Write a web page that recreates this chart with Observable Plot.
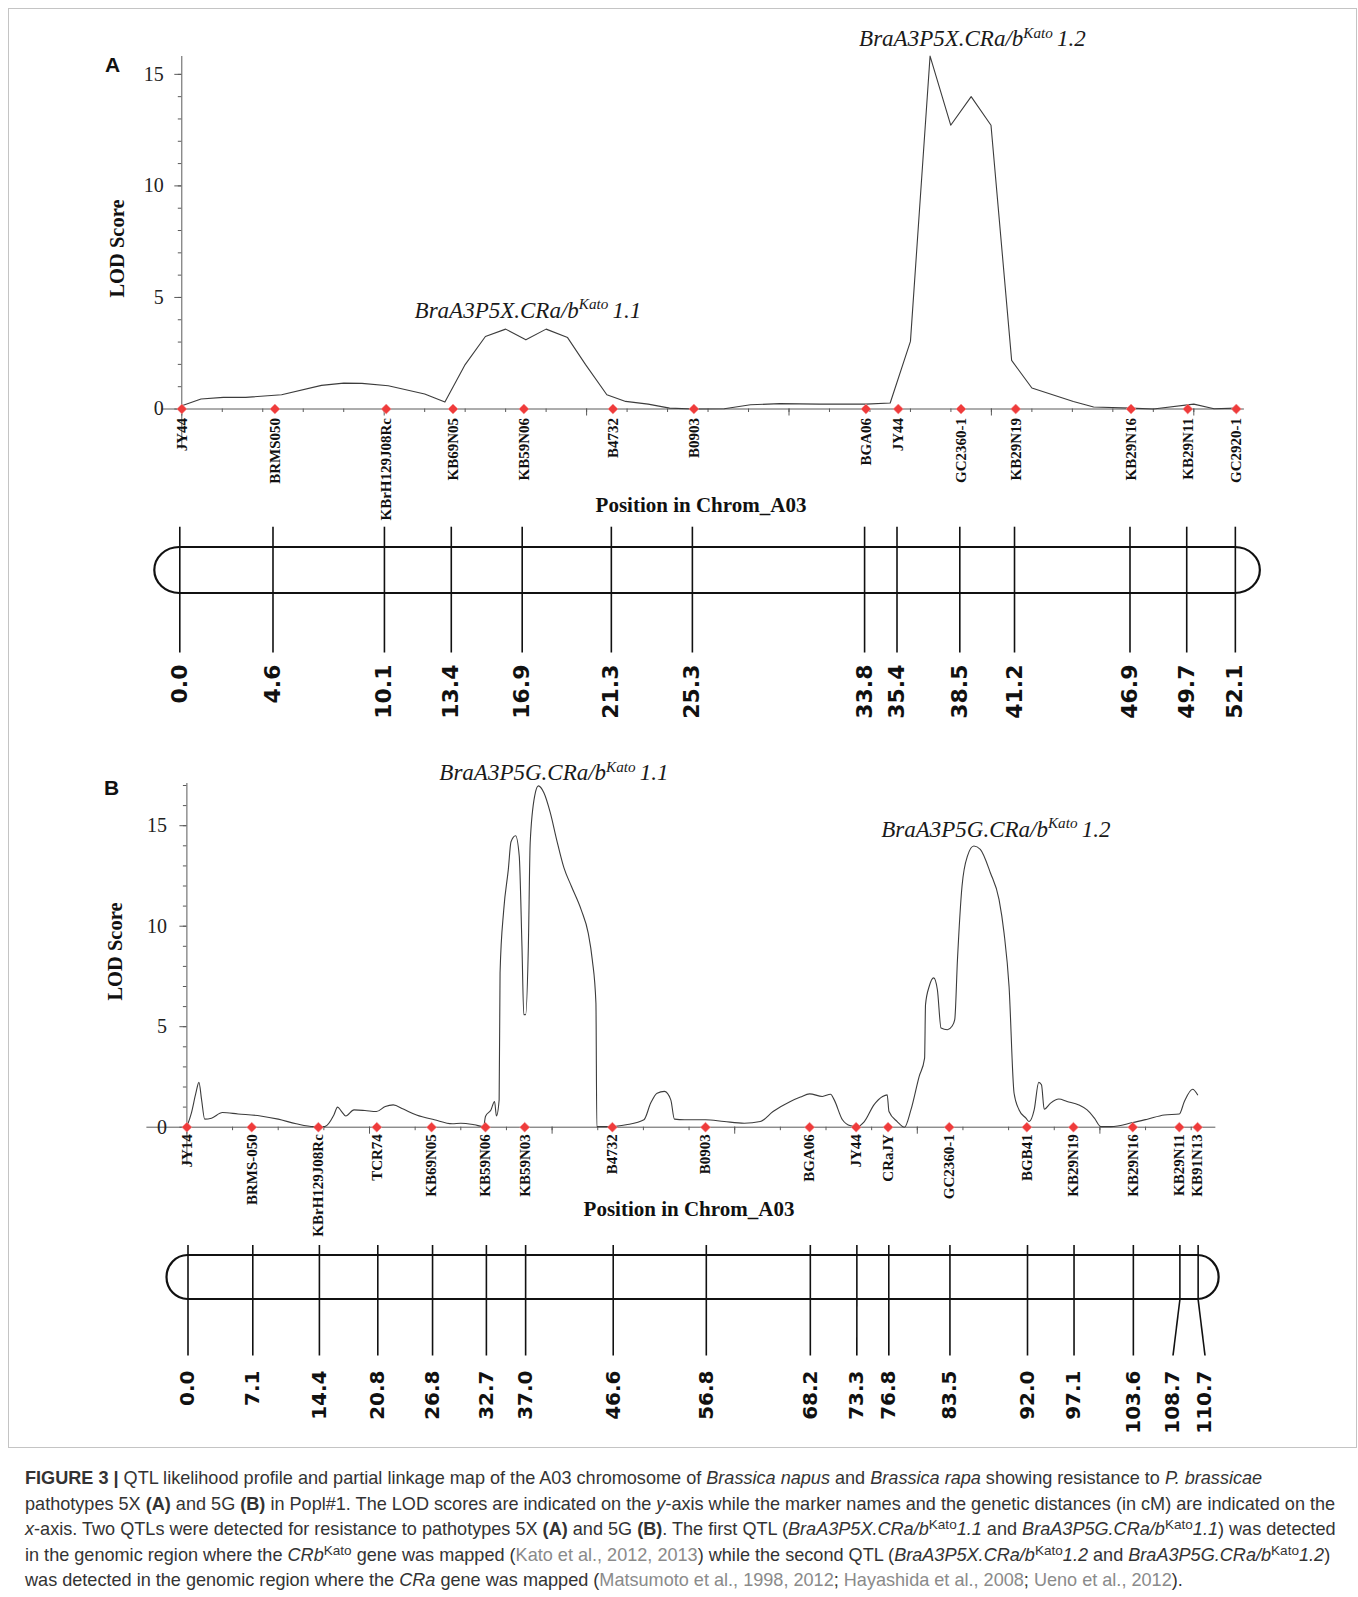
<!DOCTYPE html>
<html><head><meta charset="utf-8">
<script src="https://cdn.jsdelivr.net/npm/d3@7"></script>
<script src="https://cdn.jsdelivr.net/npm/@observablehq/plot@0.6"></script>
<style>
body{margin:0;background:#fff;}
#fig{position:relative;width:1358px;height:1597px;overflow:hidden;background:#fff;}
#fig svg{position:absolute;left:0;}
.lbl{position:absolute;white-space:nowrap;color:#111;}
.panel{font-family:"Liberation Sans",Arial,sans-serif;font-weight:bold;font-size:21px;}
.ttl{font-family:"Liberation Serif","Times New Roman",serif;font-weight:bold;font-size:21px;text-align:center;width:400px;}
.ylab{font-family:"Liberation Serif","Times New Roman",serif;font-weight:bold;font-size:20.5px;text-align:center;width:200px;transform:rotate(-90deg);}
#border{position:absolute;left:8px;top:8px;width:1347px;height:1438px;border:1px solid #c4c4c4;}
#caption{position:absolute;left:25px;top:1466px;font-family:"Liberation Sans",Arial,sans-serif;font-size:18.1px;line-height:25.5px;color:#333;}
#caption div{white-space:nowrap;}
#caption .c{color:#8a8a8a;}
#caption sup{font-size:0.75em;line-height:0;vertical-align:0.45em;}
</style></head><body><div id="fig"><div id="border"></div></div>
<script>
// ---------------- DATA ----------------
// Panel A (pathotype 5X)
const markersA = ["JY44","BRMS050","KBrH129J08Rc","KB69N05","KB59N06","B4732","B0903","BGA06","JY44","GC2360-1","KB29N19","KB29N16","KB29N11","GC2920-1"];
const positionsA = [0.0,4.6,10.1,13.4,16.9,21.3,25.3,33.8,35.4,38.5,41.2,46.9,49.7,52.1];
const profileA_cM = [0,0.95,2.05,3.16,4.93,6.9,8.0,8.9,10.2,12.0,13.0,14.0,15.0,16.0,17.0,18.0,19.06,19.95,21.0,21.93,23.04,24.1,25.3,26.8,28.1,29.55,31.5,33.8,35.0,36.0,36.97,37.99,39.0,39.98,41.0,42.0,44.05,45.05,46.9,48.0,50.0,51.0,52.1];
const profileA_LOD = [0.15,0.45,0.52,0.52,0.64,1.06,1.16,1.15,1.04,0.67,0.31,1.99,3.25,3.58,3.1,3.58,3.2,1.99,0.64,0.34,0.22,0.04,0.0,0.01,0.19,0.24,0.22,0.22,0.27,3.03,15.82,12.72,14.0,12.72,2.18,0.94,0.34,0.09,0.04,0.0,0.22,0.01,0.04];
const qtlA = [
  {name: "BraA3P5X.CRa/b^Kato^1.1", cM: 17.1, lod: 4.1},
  {name: "BraA3P5X.CRa/b^Kato^1.2", cM: 39.06, lod: 16.27}
];
// Panel B (pathotype 5G)
const markersB = ["JY14","BRMS-050","KBrH129J08Rc","TCR74","KB69N05","KB59N06","KB59N03","B4732","B0903","BGA06","JY44","CRaJY","GC2360-1","BGB41","KB29N19","KB29N16","KB29N11","KB91N13"];
const positionsB = [0.0,7.1,14.4,20.8,26.8,32.7,37.0,46.6,56.8,68.2,73.3,76.8,83.5,92.0,97.1,103.6,108.7,110.7];
const profileB_cM = [0,0.49,0.98,1.32,1.61,1.95,2.69,3.9,5.6,8.06,10.0,11.97,13.9,15.1,16.1,16.5,16.95,17.4,18.3,19.5,20.76,21.73,22.6,23.7,25.15,27.1,29.06,30.0,31.5,32.5,32.7,33.3,33.7,33.9,34.2,34.3,34.7,35.2,35.5,36.0,36.4,36.7,36.9,37.1,37.4,37.6,38.1,38.5,39.1,39.8,40.5,41.3,42.1,43.2,43.95,44.4,44.8,44.9,46.5,48.1,50.06,50.8,51.5,52.3,53.0,53.4,54.5,56.8,58.85,61.05,62.8,64.2,66.1,67.2,68.2,69.6,70.5,70.9,71.8,72.7,73.4,74.2,75.25,76.2,76.7,76.9,77.8,78.6,79.3,80.2,80.8,80.9,81.3,81.8,82.2,82.6,83.3,83.8,84.1,84.4,84.9,85.5,86.2,86.9,88.0,88.95,89.5,90.05,90.6,91.15,91.9,92.25,92.8,93.3,93.6,93.9,94.6,95.5,96.4,97.7,98.6,99.4,100.1,101.2,103.6,105.2,107.05,108.7,109.25,110.15,110.7];
const profileB_LOD = [0.03,0.7,1.69,2.23,1.36,0.4,0.45,0.73,0.66,0.56,0.4,0.17,0.03,0.03,0.61,1.0,0.78,0.56,0.86,0.83,0.78,1.03,1.11,0.9,0.61,0.37,0.17,0.2,0.12,0.03,0.53,0.86,1.28,0.56,1.36,7.67,10.8,12.8,14.2,14.5,13.5,9.0,5.6,5.6,9.0,14.15,16.5,16.98,16.64,15.65,14.3,12.9,12.0,10.8,9.67,8.34,6.18,0.03,0.03,0.12,0.37,1.2,1.69,1.78,1.36,0.4,0.37,0.37,0.28,0.2,0.28,0.78,1.28,1.5,1.66,1.53,1.64,1.36,0.37,0.07,0.03,0.28,1.11,1.53,1.61,0.78,0.28,0.0,0.86,2.52,3.44,6.1,7.0,7.43,6.84,4.93,4.85,5.02,5.35,8.34,12.0,13.5,13.99,13.82,12.66,11.33,9.67,7.0,1.69,0.86,0.45,0.28,0.86,2.23,2.11,0.9,1.2,1.4,1.28,1.11,0.86,0.45,0.03,0.03,0.23,0.4,0.61,0.66,1.28,1.89,1.61];
const qtlB = [
  {name: "BraA3P5G.CRa/b^Kato^1.1", cM: 40.2, lod: 17.25},
  {name: "BraA3P5G.CRa/b^Kato^1.2", cM: 88.6, lod: 14.46}
];
// Axis tick values
const yTickLabels = [0, 5, 10, 15];
const yMinorA = d3.range(0, 16, 1), yMinorB = d3.range(0, 18, 1);
const xMinorA = d3.range(0, 52.5, 2), xMajorA = d3.range(0, 52.5, 10);
const xMinorB = d3.range(0, 112.7, 5), xMajorB = d3.range(0, 112.7, 20);

// ---------------- DRAWING ----------------
const W = 1358;
const fig = document.getElementById("fig");
const AXIS = "#5a5a5a";

function addSvg(svg, top) { svg.style.top = top + "px"; fig.appendChild(svg); return svg; }

function superscripts(svg, fs) {
  d3.select(svg).selectAll("text").filter(function(){ return this.textContent.includes("^"); }).each(function(){
    const parts = this.textContent.split("^");
    const el = d3.select(this); el.text(null);
    el.append("tspan").text(parts[0]);
    el.append("tspan").attr("font-size", fs * 0.66).attr("dy", -fs * 0.36).text(parts[1]);
    el.append("tspan").attr("dy", fs * 0.36).attr("dx", fs * 0.18).text(parts[2]);
  });
}

function lodChart(o) {
  const xRight = o.left + o.xMax * o.ppc;
  const svg = Plot.plot({
    width: W, height: o.height,
    marginLeft: o.left, marginRight: W - xRight,
    marginTop: o.yTopPx - o.top, marginBottom: o.top + o.height - o.y0px,
    x: {domain: [0, o.xMax], axis: null},
    y: {domain: [0, o.yMax], axis: null},
    style: {fontFamily: "'Liberation Serif','Times New Roman',serif", background: "transparent", overflow: "visible", color: "#111"},
    marks: [
      Plot.ruleY(o.yMinor, {y: d => d, x1: 0, x2: 0, insetLeft: -3.5, stroke: AXIS}),
      Plot.ruleY(yTickLabels, {y: d => d, x1: 0, x2: 0, insetLeft: -7, stroke: AXIS}),
      Plot.ruleX(o.xMinor, {x: d => d, y1: 0, y2: 0, insetBottom: -3.5, stroke: AXIS}),
      Plot.ruleX(o.xMajor, {x: d => d, y1: 0, y2: 0, insetBottom: -7, stroke: AXIS}),
      Plot.ruleY([0], {x1: 0, x2: o.xMax, insetLeft: -o.xExt, stroke: AXIS}),
      Plot.ruleX([0], {y1: o.yMax, y2: 0, insetBottom: -o.yExt, stroke: AXIS}),
      Plot.text(yTickLabels, {x: 0, y: d => d, text: d => String(d), textAnchor: "end", dx: -o.yGap, fontSize: 20, fill: "#222"}),
      Plot.line(o.cM.map((c, i) => ({c, v: o.lod[i]})), {x: "c", y: "v", curve: o.curve, stroke: "#3c3c3c", strokeWidth: 1.1}),
      Plot.dot(o.positions, {x: d => d, y: 0, symbol: "diamond2", r: 4.5, fill: "#ef3b3b", stroke: "#f59a9a", strokeWidth: 0.6}),
      Plot.text(o.markers, {x: (d, i) => o.positions[i], y: 0, text: d => d, rotate: -90, textAnchor: "end", dy: o.mDy, fontSize: 15, fontWeight: "bold", fill: "#111"}),
      Plot.text(o.qtl, {x: "cM", y: "lod", text: "name", fontStyle: "italic", fontSize: 23, lineAnchor: "bottom", fill: "#1a1a1a"})
    ]
  });
  superscripts(svg, 23);
  return addSvg(svg, o.top);
}

function spread(pos, gap) {
  const out = pos.slice();
  for (let it = 0; it < 100; it++) {
    let moved = false;
    for (let i = 1; i < out.length; i++) {
      const d = out[i] - out[i - 1];
      if (d < gap - 1e-9) { const s = (gap - d) / 2; out[i - 1] -= s; out[i] += s; moved = true; }
    }
    if (!moved) break;
  }
  return out;
}

function mapChart(o) {
  const xRight = o.left + o.xMax * o.ppc;
  const span = o.lineBottom - o.lineTop;
  const f = px => (o.lineBottom - px) / span;  // page px -> map y units (0 bottom of lines, 1 top)
  const cTop = f(o.chromTop), cBot = f(o.chromBottom);
  const labelPos = spread(o.positions, o.minGapPx / o.ppc);
  const last = o.positions[o.positions.length - 1];
  const svg = Plot.plot({
    width: W, height: o.height,
    marginLeft: o.left, marginRight: W - xRight,
    marginTop: o.lineTop - o.top, marginBottom: o.top + o.height - o.lineBottom,
    x: {domain: [0, o.xMax], axis: null},
    y: {domain: [0, 1], axis: null},
    style: {background: "transparent", overflow: "visible"},
    marks: [
      Plot.rect([last], {x1: 0, x2: d => d, y1: cBot, y2: cTop, insetLeft: -o.capW, insetRight: -o.capW, rx: o.capW, ry: (o.chromBottom - o.chromTop) / 2, fill: "white", stroke: "#111", strokeWidth: 2.2}),
      Plot.ruleX(o.positions, {x: d => d, y1: 1, y2: cBot, stroke: "#111", strokeWidth: 1.6}),
      Plot.link(o.positions, {x1: d => d, y1: cBot, x2: (d, i) => labelPos[i], y2: 0, stroke: "#111", strokeWidth: 1.6}),
      Plot.text(o.positions, {x: (d, i) => labelPos[i], y: 0, text: d => d.toFixed(1), rotate: -90, textAnchor: "end", dy: o.labelDy, fontFamily: "'DejaVu Sans',Verdana,sans-serif", fontWeight: "bold", fontSize: o.fontSize, fill: "#111"})
    ]
  });
  return addSvg(svg, o.top);
}

lodChart({top: 0, height: 520, left: 181.3, ppc: 20.24, xMax: 52.5, yMax: 15.8, y0px: 408.5, yTopPx: 56,
  yMinor: yMinorA, xMinor: xMinorA, xMajor: xMajorA, xExt: 20, yExt: 40, yGap: 18, mDy: 9,
  cM: profileA_cM, lod: profileA_LOD, curve: "linear", positions: positionsA, markers: markersA, qtl: qtlA});
mapChart({top: 500, height: 200, left: 179.3, ppc: 20.26, xMax: 52.5, positions: positionsA,
  lineTop: 526.7, lineBottom: 652, chromTop: 547, chromBottom: 593, capW: 25, labelDy: 12, fontSize: 22, minGapPx: 30});
lodChart({top: 700, height: 520, left: 186.4, ppc: 9.13, xMax: 112.7, yMax: 17.1, y0px: 1126.7, yTopPx: 783,
  yMinor: yMinorB, xMinor: xMinorB, xMajor: xMajorB, xExt: 40, yExt: 38, yGap: 20, mDy: 7,
  cM: profileB_cM, lod: profileB_LOD, curve: "monotone-x", positions: positionsB, markers: markersB, qtl: qtlB});
mapChart({top: 1220, height: 200, left: 187.5, ppc: 9.125, xMax: 112.7, positions: positionsB,
  lineTop: 1245, lineBottom: 1355, chromTop: 1255, chromBottom: 1299, capW: 21, labelDy: 15, fontSize: 20, minGapPx: 32});

// HTML labels
function label(cls, text, left, top) {
  const d = document.createElement("div");
  d.className = "lbl " + cls; d.textContent = text;
  d.style.left = left + "px"; d.style.top = top + "px";
  fig.appendChild(d); return d;
}
label("panel", "A", 105, 53);
label("panel", "B", 104, 776);
label("ylab", "LOD Score", 17, 237);
label("ylab", "LOD Score", 15, 940);
label("ttl", "Position in Chrom_A03", 501, 493);
label("ttl", "Position in Chrom_A03", 489, 1197);

const cap = document.createElement("div");
cap.id = "caption";
cap.innerHTML = [
  '<b>FIGURE 3 |</b> QTL likelihood profile and partial linkage map of the A03 chromosome of <i>Brassica napus</i> and <i>Brassica rapa</i> showing resistance to <i>P. brassicae</i>',
  'pathotypes 5X <b>(A)</b> and 5G <b>(B)</b> in Popl#1. The LOD scores are indicated on the <i>y</i>-axis while the marker names and the genetic distances (in cM) are indicated on the',
  '<i>x</i>-axis. Two QTLs were detected for resistance to pathotypes 5X <b>(A)</b> and 5G <b>(B)</b>. The first QTL (<i>BraA3P5X.CRa/b</i><sup>Kato</sup><i>1.1</i> and <i>BraA3P5G.CRa/b</i><sup>Kato</sup><i>1.1</i>) was detected',
  'in the genomic region where the <i>CRb</i><sup>Kato</sup> gene was mapped (<span class="c">Kato et al., 2012, 2013</span>) while the second QTL (<i>BraA3P5X.CRa/b</i><sup>Kato</sup><i>1.2</i> and <i>BraA3P5G.CRa/b</i><sup>Kato</sup><i>1.2</i>)',
  'was detected in the genomic region where the <i>CRa</i> gene was mapped (<span class="c">Matsumoto et al., 1998, 2012</span>; <span class="c">Hayashida et al., 2008</span>; <span class="c">Ueno et al., 2012</span>).'
].map(s => '<div>' + s + '</div>').join("");
fig.appendChild(cap);
</script>
</body></html>
